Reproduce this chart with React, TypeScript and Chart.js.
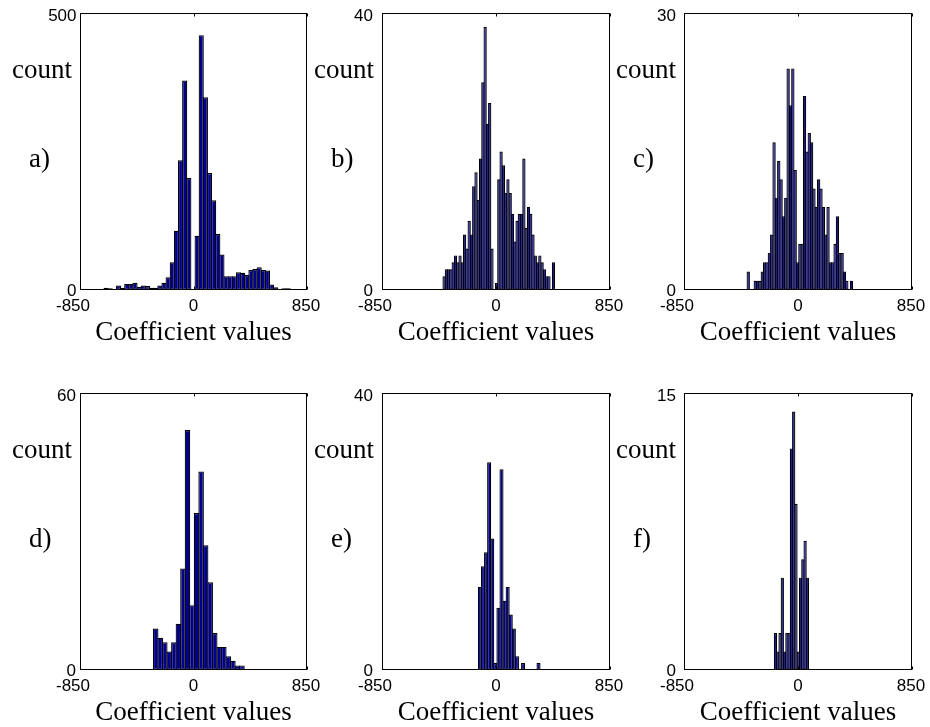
import { useEffect, useRef } from "react";
import { Chart, registerables } from "chart.js";

Chart.register(...registerables);

// Shared horizontal range and its tick labels
const X_MIN = -850;
const X_MAX = 850;
const X_TICKS = [-850, 0, 850];
const X_TITLE = "Coefficient values";
const Y_TITLE = "count";

// a) histogram: bin centres and counts
const centersA = [
  -655, -624, -593, -562, -531, -500, -469, -438, -407, -376, -345, -314, -283, -252, -221,
  -190, -159, -128, -97, -66, -35, -4, 27, 58, 89, 120, 151, 182, 213, 244, 275, 306, 337,
  368, 399, 430, 461, 492, 523, 554, 585, 616, 647, 678, 709,
];
const countsA = [
  4, 3, 1, 8, 4, 11, 11, 13, 6, 8, 7, 4, 4, 8, 13, 23, 50, 107, 234, 378, 202, 1, 98, 460, 348,
  211, 162, 101, 64, 25, 25, 25, 32, 31, 27, 36, 38, 41, 36, 35, 10, 5, 2, 3, 3,
];
const yMaxA = 500;

// b)
const centersB = [
  -387, -370, -353, -336, -319, -302, -285, -268, -251, -234, -217, -200, -183, -166, -149,
  -132, -115, -98, -81, -64, -47, -30, -13, 4, 21, 38, 55, 72, 89, 106, 123, 140, 157, 174,
  191, 208, 225, 242, 259, 276, 293, 310, 327, 344, 361, 378, 395, 412, 429,
];
const countsB = [
  2, 3, 3, 3, 4, 5, 4, 5, 4, 8, 6, 10, 8, 15, 17, 13, 19, 30, 38, 24, 27, 6, 0, 1, 16, 20, 18,
  14, 16, 14, 11, 7, 10, 11, 11, 19, 9, 12, 11, 8, 5, 4, 5, 4, 3, 2, 2, 0, 4,
];
const yMaxB = 40;

// c)
const centersC = [
  -371, -353.5, -336, -318.5, -301, -283.5, -266, -248.5, -231, -213.5, -196, -178.5, -161,
  -143.5, -126, -108.5, -91, -73.5, -56, -38.5, -21, -3.5, 14, 31.5, 49, 66.5, 84, 101.5, 119,
  136.5, 154, 171.5, 189, 206.5, 224, 241.5, 259, 276.5, 294, 311.5, 329, 346.5, 364, 381.5, 399,
];
const countsC = [
  2, 0, 0, 1, 1, 1, 2, 3, 3, 4, 6, 16, 10, 14, 12, 8, 10, 24, 20, 24, 13, 3, 5, 5, 21, 15, 17,
  16, 11, 9, 12, 11, 9, 6, 9, 3, 3, 5, 8, 4, 4, 2, 1, 0, 1,
];
const yMaxC = 30;

// d)
const centersD = [
  -283, -249, -215, -181, -147, -113, -79, -45, -11, 23, 57, 91, 125, 159, 193, 227, 261, 295,
  329, 363,
];
const countsD = [9, 7, 6, 4, 6, 10, 22, 52, 14, 34, 43, 27, 19, 8, 5, 5, 3, 2, 1, 1];
const yMaxD = 60;

// e)
const centersE = [
  -120, -97, -74, -51, -28, -5, 18, 41, 64, 87, 110, 133, 156, 179, 202, 225, 248, 271, 294, 317,
];
const countsE = [12, 15, 17, 30, 19, 1, 9, 29, 10, 12, 8, 6, 2, 0, 1, 0, 0, 0, 0, 1];
const yMaxE = 40;

// f)
const centersF = [-168, -151, -134, -117, -100, -83, -66, -49, -32, -15, 2, 19, 36, 53, 70];
const countsF = [2, 1, 2, 5, 1, 2, 2, 12, 14, 9, 1, 5, 6, 7, 5];
const yMaxF = 15;

// Page size, plot box of each panel (left, top, right, bottom in px) and y-label gap
const PAGE_W = 930;
const PAGE_H = 727;
const PANELS = [
  { letter: "a)", centers: centersA, counts: countsA, yMax: yMaxA, box: [80, 13, 307, 290], gap: 3.5 },
  { letter: "b)", centers: centersB, counts: countsB, yMax: yMaxB, box: [382, 13, 610, 290], gap: 9 },
  { letter: "c)", centers: centersC, counts: countsC, yMax: yMaxC, box: [684, 13, 912, 290], gap: 8 },
  { letter: "d)", centers: centersD, counts: countsD, yMax: yMaxD, box: [80, 393, 307, 670], gap: 4 },
  { letter: "e)", centers: centersE, counts: countsE, yMax: yMaxE, box: [382, 393, 610, 670], gap: 9 },
  { letter: "f)", centers: centersF, counts: countsF, yMax: yMaxF, box: [684, 393, 912, 670], gap: 8 },
];

const BAR_FILL = "#00008c";
const BAR_EDGE = "#000000";
const TICK_FONT = '17px "Liberation Sans", Arial, Helvetica, sans-serif';
const LABEL_FONT = '27px "Liberation Serif", "Times New Roman", serif';

type PanelCfg = (typeof PANELS)[number];

function makeFramePlugin(cfg: PanelCfg) {
  return {
    id: "frame",
    afterDatasetsDraw(chart: any) {
      const { ctx, chartArea } = chart;
      const { left, top, right, bottom } = chartArea;
      const xs = chart.scales.x;
      const ys = chart.scales.y;
      ctx.save();

      // axes box
      ctx.strokeStyle = "#000";
      ctx.lineWidth = 1;
      const l = Math.round(left) + 0.5;
      const t = Math.round(top) + 0.5;
      const r = Math.round(right) - 0.5;
      const b = Math.round(bottom) - 0.5;
      ctx.strokeRect(l, t, r - l, b - t);

      // inward tick marks
      ctx.beginPath();
      for (const v of X_TICKS) {
        const px = Math.round(xs.getPixelForValue(v)) + 0.5;
        ctx.moveTo(px, t);
        ctx.lineTo(px, t + 3);
        ctx.moveTo(px, b);
        ctx.lineTo(px, b - 3);
      }
      ctx.stroke();

      // tick labels
      ctx.fillStyle = "#000";
      ctx.font = TICK_FONT;
      ctx.textBaseline = "alphabetic";
      ctx.textAlign = "right";
      for (const v of [0, cfg.yMax]) {
        const py = ys.getPixelForValue(v);
        ctx.fillText(String(v), left - cfg.gap, py + (v === 0 ? 6 : 7.5));
      }
      ctx.textAlign = "center";
      X_TICKS.forEach((v, i) => {
        const px = xs.getPixelForValue(v);
        const shift = i === 0 ? -7 : i === X_TICKS.length - 1 ? -1 : 0;
        ctx.fillText(String(v), px + shift, bottom + 21);
      });

      // titles and panel letter
      ctx.font = LABEL_FONT;
      ctx.textAlign = "right";
      ctx.fillText(Y_TITLE, left - 8, top + 65);
      ctx.textAlign = "left";
      ctx.fillText(cfg.letter, left - 51, top + 154);
      ctx.textAlign = "center";
      ctx.fillText(X_TITLE, (left + right) / 2, bottom + 50);

      ctx.restore();
    },
  };
}

function Panel({ cfg }: { cfg: PanelCfg }) {
  const ref = useRef<HTMLCanvasElement | null>(null);

  useEffect(() => {
    const canvas = ref.current;
    if (!canvas) return;
    const [L, T, R, B] = cfg.box;
    const binPx = ((cfg.centers[1] - cfg.centers[0]) * (R - L)) / (X_MAX - X_MIN);
    const chart = new Chart(canvas, {
      type: "bar",
      data: {
        datasets: [
          {
            data: cfg.centers.map((c, i) => ({ x: c, y: cfg.counts[i] })),
            backgroundColor: BAR_FILL,
            borderColor: BAR_EDGE,
            borderWidth: 1.2,
            borderSkipped: false,
            inflateAmount: 0,
            categoryPercentage: 1,
            // widen by one pixel so neighbouring edges share a single line
            barPercentage: 1 + 1 / binPx,
          } as any,
        ],
      },
      options: {
        animation: false,
        responsive: false,
        devicePixelRatio: 1,
        events: [],
        layout: { padding: { left: L, top: T, right: PAGE_W - R, bottom: PAGE_H - B } },
        plugins: { legend: { display: false }, tooltip: { enabled: false } },
        scales: {
          x: {
            type: "linear",
            min: X_MIN,
            max: X_MAX,
            offset: false,
            display: false,
            grid: { offset: false },
          },
          y: { type: "linear", min: 0, max: cfg.yMax, display: false },
        },
      },
      plugins: [makeFramePlugin(cfg)],
    });
    return () => chart.destroy();
  }, [cfg]);

  return (
    <canvas
      ref={ref}
      width={PAGE_W}
      height={PAGE_H}
      style={{ position: "absolute", left: 0, top: 0, width: PAGE_W, height: PAGE_H }}
    />
  );
}

export default function App() {
  return (
    <div
      style={{
        position: "absolute",
        left: 0,
        top: 0,
        width: PAGE_W,
        height: PAGE_H,
        background: "#fff",
      }}
    >
      {PANELS.map((p) => (
        <Panel key={p.letter} cfg={p} />
      ))}
    </div>
  );
}
